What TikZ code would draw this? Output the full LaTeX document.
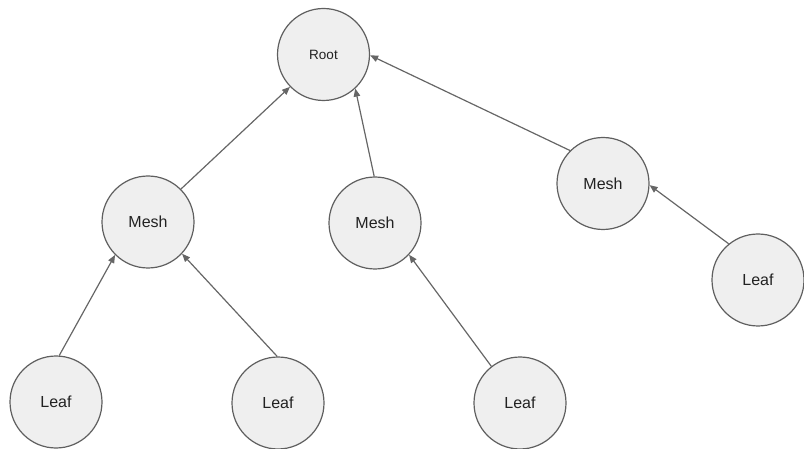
\documentclass[tikz,border=0pt]{standalone}
\usepackage{fontspec}
\setmainfont{Liberation Sans}
\usetikzlibrary{arrows.meta}
\definecolor{nodefill}{HTML}{EFEFEF}
\definecolor{nodeline}{HTML}{5F5F5F}
\definecolor{edgeline}{HTML}{666666}
\definecolor{txt}{HTML}{222222}
\tikzset{
  treenode/.style={circle, draw=nodeline, fill=nodefill, line width=1.2pt,
    minimum size=92pt, inner sep=0pt, text=txt, font=\fontsize{16}{18}\selectfont},
  rootnode/.style={treenode, font=\fontsize{13.5}{16}\selectfont},
  edge/.style={draw=edgeline, line width=1.2pt, -{Triangle[length=8pt,width=6.5pt]}}
}
\begin{document}
\begin{tikzpicture}[x=1pt,y=-1pt]
\useasboundingbox (0,0) rectangle (804,449);
\node[rootnode] (root) at (323.5,54.5) {Root};
\node[treenode] (m1) at (148,222) {Mesh};
\node[treenode] (m2) at (375,223) {Mesh};
\node[treenode] (m3) at (603,183.5) {Mesh};
\node[treenode] (l4) at (758,280) {Leaf};
\node[treenode] (l1) at (56,402) {Leaf};
\node[treenode] (l2) at (278,403) {Leaf};
\node[treenode] (l3) at (520,403) {Leaf};
\draw[edge] (m1.45.8) -- (root.-136);
\draw[edge] (m2.91) -- (root.-47.5);
\draw[edge] (m3.135.4) -- (root.-1);
\draw[edge] (l1.86) -- (m1.-135);
\draw[edge] (l2.91) -- (m1.-43);
\draw[edge] (l3.128.7) -- (m2.-43);
\draw[edge] (l4.129.3) -- (m3.-2);
\end{tikzpicture}
\end{document}
